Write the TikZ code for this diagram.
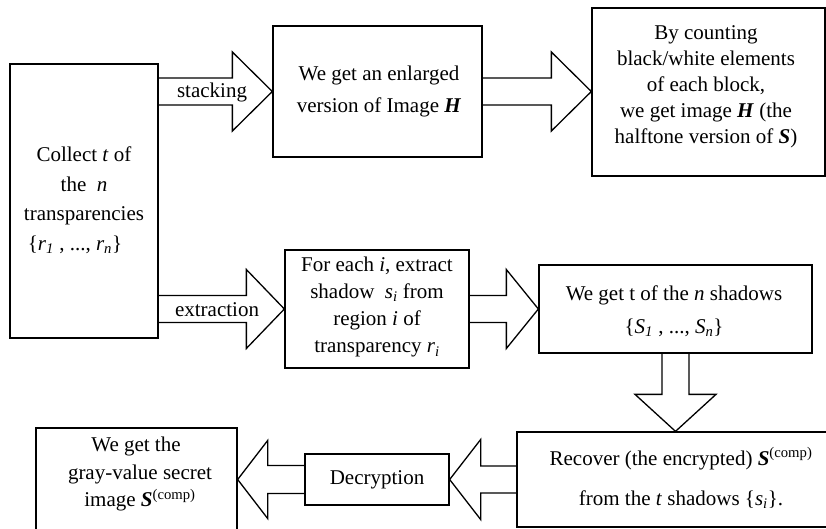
\documentclass[tikz,border=0pt]{standalone}
\usepackage{fontspec}
\setmainfont{Liberation Serif}
\usetikzlibrary{calc}
\tikzset{
  box/.style={draw, line width=1.3pt, inner sep=0pt},
  txt/.style={align=center, inner sep=0pt},
  barrow/.style={draw, line width=1.3pt, line join=miter},
}
\newcommand\bi[1]{\textbf{\textit{#1}}}
\newcommand\sub[2]{\textit{#1}\textsubscript{\textit{#2}}}
\newcommand\blockarrow[5]{%
  \coordinate (ba-s) at (#1);
  \coordinate (ba-e) at (#2);
  \coordinate (ba-b) at ($(ba-e)!#5!(ba-s)$);
  \draw[barrow] ($(ba-s)!#3!90:(ba-e)$) -- ($(ba-b)!#3!90:(ba-e)$) --
    ($(ba-b)!#4!90:(ba-e)$) -- (ba-e) -- ($(ba-b)!#4!-90:(ba-e)$) --
    ($(ba-b)!#3!-90:(ba-e)$) -- ($(ba-s)!#3!-90:(ba-e)$);
}
\begin{document}
\begin{tikzpicture}[x=1pt, y=-1pt, font=\fontsize{21}{26}\selectfont]
\useasboundingbox (0,0) rectangle (826,528);
\clip (0,0) rectangle (826,528);
% boxes
\node[box, minimum width=148pt, minimum height=274pt] (b1) at (84,201) {};
\node[box, minimum width=209pt, minimum height=131pt] (b2) at (377.5,91.5) {};
\node[box, minimum width=233pt, minimum height=168pt] (b3) at (708.5,92) {};
\node[box, minimum width=184pt, minimum height=118pt] (b4) at (377,309) {};
\node[box, minimum width=273pt, minimum height=88pt] (b5) at (675.5,309) {};
\node[box, minimum width=323pt, minimum height=95pt] (b6) at (678.5,479.5) {};
\node[box, minimum width=201pt, minimum height=118pt] (b7) at (136.5,487) {};
\node[box, minimum width=144pt, minimum height=51pt] (dec) at (377,479.5) {};
% texts
\node[txt, font=\fontsize{21}{29.5}\selectfont] (t1) at (84,200)
  {Collect \textit{t} of\\the \ \textit{n}\\transparencies\\\{\sub{r}{1} , ..., \sub{r}{n}\}\hspace*{18pt}};
\node[txt, font=\fontsize{21}{32}\selectfont] (t2) at (379,91)
  {We get an enlarged\\version of Image \bi{H}};
\node[txt, font=\fontsize{21}{26}\selectfont] (t3) at (706,87)
  {By counting\\black/white elements\\of each block,\\we get image \bi{H} (the\\halftone version of \bi{S})};
\node[txt, font=\fontsize{21}{27.3}\selectfont] (t4) at (377,307)
  {For each \textit{i}, extract\\shadow \ \sub{s}{i} from\\region \textit{i} of\\transparency \sub{r}{i}};
\node[txt, font=\fontsize{21}{33}\selectfont] (t5) at (674,311.5)
  {We get t of the \textit{n} shadows\\\{\sub{S}{1} , ..., \sub{S}{n}\}};
\node[txt, font=\fontsize{21}{40}\selectfont] (t6) at (681,478)
  {Recover (the encrypted) \bi{S}\textsuperscript{(comp)}\\from the \textit{t} shadows \{\sub{s}{i}\}.};
\node[txt, font=\fontsize{21}{27.5}\selectfont] (t7) at (140,474)
  {We get the\hspace*{8pt}\\gray-value secret\\image \bi{S}\textsuperscript{(comp)}};
\node[txt] (t8) at (dec.center) {Decryption};
% block arrows
\blockarrow{b1.east |- b2.west}{b2.west}{13.5pt}{39.5pt}{40pt}
\blockarrow{b2.east}{b2.east -| b3.west}{13.5pt}{39.5pt}{40pt}
\blockarrow{b1.east |- b4.west}{b4.west}{13.5pt}{39.5pt}{38pt}
\blockarrow{b4.east}{b4.east -| b5.west}{13.5pt}{39.5pt}{32pt}
\blockarrow{b5.south}{b5.south |- b6.north}{13.5pt}{40.5pt}{37pt}
\blockarrow{b6.west |- dec.east}{dec.east}{13.5pt}{40pt}{31pt}
\blockarrow{dec.west}{dec.west -| b7.east}{14pt}{39pt}{30pt}
% labels
\node[txt] (l1) at (212,92) {stacking};
\node[txt] (l2) at (217,310) {extraction};
\end{tikzpicture}
\end{document}
